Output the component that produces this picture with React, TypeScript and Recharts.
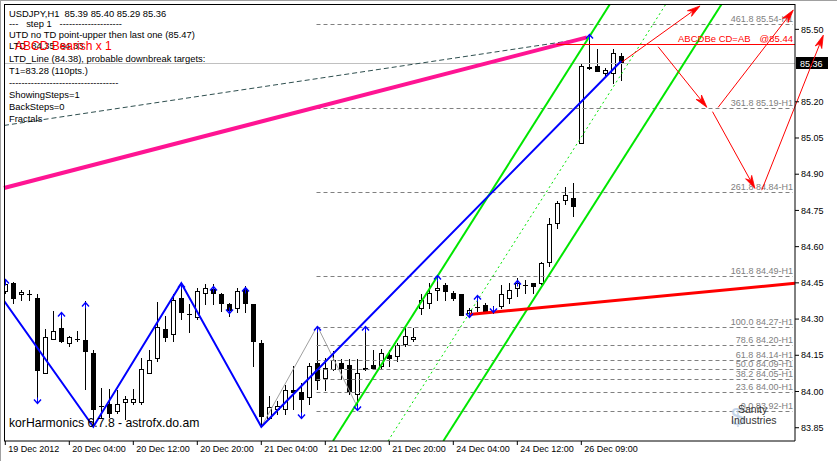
import React from 'react';
import {
  ComposedChart,
  Bar,
  Line,
  Scatter,
  XAxis,
  YAxis,
  ReferenceLine,
} from 'recharts';

const FONT = '"Liberation Sans", Arial, sans-serif';

// H1 bars: open, high, low, close
const ohlc: number[][] = [
  [84.416, 84.456, 84.41, 84.444],
  [84.451, 84.455, 84.368, 84.389],
  [84.402, 84.42, 84.381, 84.412],
  [84.402, 84.42, 84.381, 84.402],
  [84.389, 84.402, 83.96, 84.089],
  [84.078, 84.26, 84.075, 84.227],
  [84.219, 84.333, 84.216, 84.249],
  [84.261, 84.327, 84.205, 84.209],
  [84.199, 84.23, 84.188, 84.227],
  [84.219, 84.249, 84.209, 84.219],
  [84.212, 84.374, 84.009, 84.168],
  [84.161, 84.17, 83.857, 83.926],
  [83.94, 84.016, 83.893, 83.94],
  [83.949, 84.009, 83.893, 83.909],
  [83.919, 84.006, 83.912, 83.949],
  [83.956, 83.981, 83.885, 83.97],
  [83.956, 84.009, 83.947, 83.97],
  [83.956, 84.14, 83.947, 84.092],
  [84.078, 84.17, 84.075, 84.13],
  [84.14, 84.37, 84.126, 84.267],
  [84.26, 84.313, 84.209, 84.227],
  [84.239, 84.402, 84.209, 84.381],
  [84.389, 84.451, 84.299, 84.329],
  [84.319, 84.361, 84.246, 84.319],
  [84.308, 84.43, 84.299, 84.416],
  [84.409, 84.444, 84.361, 84.43],
  [84.423, 84.444, 84.361, 84.409],
  [84.402, 84.409, 84.333, 84.368],
  [84.361, 84.368, 84.313, 84.337],
  [84.347, 84.43, 84.329, 84.416],
  [84.423, 84.437, 84.329, 84.368],
  [84.361, 84.361, 84.105, 84.209],
  [84.199, 84.212, 83.857, 83.898],
  [83.891, 83.981, 83.885, 83.937],
  [83.929, 83.96, 83.905, 83.94],
  [83.929, 84.029, 83.905, 84.006],
  [84.006, 84.105, 83.926, 84.0],
  [84.0, 84.036, 83.893, 83.97],
  [83.977, 84.119, 83.947, 84.105],
  [84.119, 84.271, 84.009, 84.047],
  [84.057, 84.14, 84.006, 84.099],
  [84.092, 84.167, 84.09, 84.13],
  [84.119, 84.133, 84.05, 84.099],
  [84.108, 84.133, 83.988, 84.002],
  [83.988, 84.133, 83.937, 84.078],
  [84.092, 84.271, 84.088, 84.099],
  [84.108, 84.17, 84.092, 84.096],
  [84.105, 84.174, 84.092, 84.161],
  [84.15, 84.17, 84.105, 84.139],
  [84.147, 84.202, 84.126, 84.191],
  [84.195, 84.264, 84.188, 84.229],
  [84.216, 84.264, 84.209, 84.227],
  [84.347, 84.402, 84.319, 84.381],
  [84.368, 84.451, 84.347, 84.409],
  [84.419, 84.478, 84.381, 84.43],
  [84.44, 84.451, 84.381, 84.416],
  [84.409, 84.416, 84.381, 84.389],
  [84.402, 84.402, 84.316, 84.316],
  [84.327, 84.347, 84.313, 84.336],
  [84.351, 84.395, 84.333, 84.351],
  [84.358, 84.368, 84.326, 84.333],
  [84.333, 84.354, 84.324, 84.333],
  [84.354, 84.44, 84.347, 84.402],
  [84.389, 84.451, 84.368, 84.419],
  [84.43, 84.471, 84.395, 84.451],
  [84.44, 84.461, 84.409, 84.44],
  [84.451, 84.451, 84.409, 84.437],
  [84.451, 84.536, 84.444, 84.531],
  [84.538, 84.72, 84.519, 84.692],
  [84.699, 84.789, 84.679, 84.779],
  [84.792, 84.848, 84.778, 84.812],
  [84.8, 84.862, 84.727, 84.768],
  [85.031, 85.362, 85.031, 85.348],
  [85.344, 85.479, 85.336, 85.338],
  [85.348, 85.42, 85.327, 85.327],
  [85.321, 85.341, 85.311, 85.331],
  [85.321, 85.42, 85.279, 85.401],
  [85.39, 85.4, 85.29, 85.36],
];

const dateTicks = [0, 8, 16, 24, 32, 40, 48, 56, 64, 72];
const dateLabels = [
  '19 Dec 2012',
  '20 Dec 04:00',
  '20 Dec 12:00',
  '20 Dec 20:00',
  '21 Dec 04:00',
  '21 Dec 12:00',
  '21 Dec 20:00',
  '24 Dec 04:00',
  '24 Dec 12:00',
  '26 Dec 09:00',
];
const priceTicks = [83.85, 84.0, 84.15, 84.3, 84.45, 84.6, 84.75, 84.9, 85.05, 85.2, 85.5];

const X_MIN = -0.1625;
const X_MAX = 98.71;
const Y_MIN = 83.795;
const Y_MAX = 85.605;

// zigzags (bar, price)
const zigzagBlue = [[-0.16, 84.376], [11, 83.854], [22, 84.448], [32, 83.854], [77, 85.369]];
const zigzagGrey = [[32, 83.854], [39, 84.271], [44, 83.937]];

// fractal arrows (bar, price)
const fractalUp = [
  [0, 84.466], [7, 84.33], [10, 84.372], [22, 84.45], [26, 84.437], [30, 84.434],
  [39, 84.271], [45, 84.271], [54, 84.482], [59, 84.399], [64, 84.461], [73, 85.479],
];
const fractalDown = [
  [4, 83.951], [28, 84.324], [37, 83.889], [44, 83.923], [58, 84.309], [61, 84.33],
];

// fibo levels
const fibLevels = [85.521, 85.173, 84.825, 84.478, 84.266, 84.191, 84.129, 84.092, 84.05, 83.996, 83.919];
const fibLabels = [
  '461.8 85.54-H1',
  '361.8 85.19-H1',
  '261.8 84.84-H1',
  '161.8 84.49-H1',
  '100.0 84.27-H1',
  '78.6 84.20-H1',
  '61.8 84.14-H1',
  '50.0 84.09-H1',
  '38.2 84.05-H1',
  '23.6 84.00-H1',
  '0.0 83.92-H1',
];
const fibStart = 38.9;
const fibEnd = 98.45;

// trend lines (bar, price) pairs
const channelLeft = [[40.96, 83.795], [75.59, 85.605]];
const channelMid = [[47.84, 83.795], [82.58, 85.605]];
const channelRight = [[54.75, 83.795], [89.55, 85.605]];
const pinkLine = [[-0.16, 84.843], [72.7, 85.467]];
const dashLine = [[-0.16, 85.102], [72.7, 85.463]];
const ltdLine = [[58, 84.319], [98.71, 84.448]];
const abcdLine = [[68.9, 85.439], [98.71, 85.439]];
const lastPrice = 85.36;

// ABCD projection arrows
const projections = [
  [[77.1, 85.365], [86.84, 85.597]],
  [[81.6, 85.428], [87.7, 85.177]],
  [[89.1, 85.177], [98.5, 85.58]],
  [[88.4, 85.159], [93.7, 84.841]],
  [[94.55, 84.834], [102.25, 85.476]],
];

const infoLines = [
  'USDJPY,H1  85.39 85.40 85.29 85.36',
  '---   step 1   --------------------',
  'UTD no TD point-upper then last one (85.47)',
  'LTD  84.35  84.33',
  'LTD_Line (84.38), probable downbreak targets:',
  'T1=83.28 (110pts.)',
  '-----------------------------------',
  'ShowingSteps=1',
  'BackSteps=0',
  'Fractals',
];
const infoY = [16.6, 26.6, 37.6, 49, 62.3, 74, 85.6, 97.6, 110, 121.6];

const candles = ohlc.map(([o, h, l, c], i) => ({ i, o, h, l, c }));
const blueData = zigzagBlue.map(([i, v]) => ({ i, v }));
const greyData = zigzagGrey.map(([i, v]) => ({ i, v }));
const fractals = [
  ...fractalUp.map(([i, v]) => ({ i, v, dir: 'up' })),
  ...fractalDown.map(([i, v]) => ({ i, v, dir: 'down' })),
];

const seg = (p: number[][]) => [
  { x: p[0][0], y: p[0][1] },
  { x: p[1][0], y: p[1][1] },
];

const Candle = (p: any) => {
  const { x, y, width, height, payload } = p;
  const { o, h, l, c } = payload;
  const top = Math.min(y, y + height);
  const span = Math.abs(height);
  const toY = (v: number) => top + ((h - v) / (h - l || 1)) * span;
  const cx = Math.floor(x + width / 2) + 0.5;
  const yo = toY(o);
  const yc = toY(c);
  const bt = Math.round(Math.min(yo, yc));
  const bb = Math.round(Math.max(yo, yc));
  let body;
  if (bb - bt < 1) {
    body = <line x1={cx - 2.5} x2={cx + 2.5} y1={bt + 0.5} y2={bt + 0.5} stroke="#000" />;
  } else if (c > o) {
    body = <rect x={cx - 2} y={bt + 0.5} width={4} height={bb - bt} fill="#fff" stroke="#000" />;
  } else {
    body = <rect x={cx - 2.5} y={bt} width={5} height={bb - bt + 1} fill="#000" />;
  }
  return (
    <g>
      <line x1={cx} x2={cx} y1={Math.round(top)} y2={Math.round(top + span) + 1} stroke="#000" />
      {body}
    </g>
  );
};

const FractalMark = (p: any) => {
  const { cx, cy, payload } = p;
  if (cx == null || cy == null) return null;
  const s = payload.dir === 'up' ? 1 : -1;
  const x = Math.round(cx) + 0.5;
  const y = Math.round(cy) + 0.5;
  return (
    <g stroke="#0000FF" strokeWidth={1.4} fill="none">
      <polyline points={`${x - 3.5},${y + 4 * s} ${x},${y} ${x + 3.5},${y + 4 * s}`} />
      <line x1={x} x2={x} y1={y} y2={y + 6 * s} strokeWidth={1} />
    </g>
  );
};

const FibShape = (label: string) => (p: any) => (
  <g>
    <line x1={p.x1} y1={Math.round(p.y1) + 0.5} x2={p.x2} y2={Math.round(p.y2) + 0.5} stroke="#808080" strokeDasharray="4 3" />
    <text x={p.x2} y={Math.round(p.y1) - 2} textAnchor="end" fontSize={9} fontFamily={FONT} fill="#808080">
      {label}
    </text>
  </g>
);

const ArrowShape = (p: any) => {
  const { x1, y1, x2, y2 } = p;
  const a = Math.atan2(y2 - y1, x2 - x1);
  const L = 13;
  const w = 3.5;
  const bx = x2 - L * Math.cos(a);
  const by = y2 - L * Math.sin(a);
  const nx = x2 - (L - 4) * Math.cos(a);
  const ny = y2 - (L - 4) * Math.sin(a);
  const px = -Math.sin(a) * w;
  const py = Math.cos(a) * w;
  return (
    <g>
      <line x1={x1} y1={y1} x2={nx} y2={ny} stroke="#FF0000" strokeWidth={1} />
      <polygon
        points={`${x2},${y2} ${bx + px},${by + py} ${nx},${ny} ${bx - px},${by - py}`}
        fill="#FF0000"
        stroke="#FF0000"
        strokeWidth={0.8}
      />
    </g>
  );
};

const AbcdShape = (p: any) => (
  <g>
    <line x1={p.x1} y1={Math.round(p.y1) + 0.5} x2={p.x2} y2={Math.round(p.y2) + 0.5} stroke="#FF0000" />
    <text x={678} y={Math.round(p.y1) - 2} fontSize={9.5} fontFamily={FONT} fill="#FF0000">
      ABCDBe CD=AB
    </text>
    <text x={p.x2 - 2} y={Math.round(p.y1) - 2} textAnchor="end" fontSize={9.5} fontFamily={FONT} fill="#FF0000">
      @85.44
    </text>
  </g>
);

const PriceShape = (p: any) => {
  const y = Math.round(p.y1) + 0.5;
  return (
    <g>
      <line x1={p.x1} y1={y} x2={p.x2} y2={y} stroke="#C0C0C0" />
      <rect x={p.x2 + 1} y={y - 6.5} width={32} height={12} fill="#000" />
      <text x={p.x2 + 5} y={y + 3.5} fontSize={9} fontFamily={FONT} fill="#fff">
        {lastPrice.toFixed(2)}
      </text>
    </g>
  );
};

const DateTick = (p: any) => {
  const { x, y, payload } = p;
  const idx = dateTicks.indexOf(payload.value);
  return (
    <text x={x + 3} y={y + 7} fontSize={9} fontFamily={FONT} fill="#000">
      {dateLabels[idx]}
    </text>
  );
};

export default function App() {
  return (
    <div style={{ position: 'fixed', left: 0, top: 0, width: 837, height: 461, background: '#fff', overflow: 'hidden' }}>
      <ComposedChart
        width={837}
        height={461}
        data={candles}
        margin={{ top: 4, right: 0, bottom: 0, left: 4 }}
      >
        <XAxis
          dataKey="i"
          type="number"
          domain={[X_MIN, X_MAX]}
          allowDataOverflow
          ticks={dateTicks}
          interval={0}
          height={20}
          tickSize={4}
          tickMargin={0}
          axisLine={{ stroke: '#000' }}
          tickLine={{ stroke: '#000' }}
          tick={<DateTick />}
        />
        <YAxis
          type="number"
          orientation="right"
          domain={[Y_MIN, Y_MAX]}
          allowDataOverflow
          ticks={priceTicks}
          interval={0}
          width={42}
          tickSize={4}
          tickMargin={2}
          axisLine={{ stroke: '#000' }}
          tickLine={{ stroke: '#000' }}
          tickFormatter={(v: number) => v.toFixed(2)}
          tick={{ fontSize: 9, fontFamily: FONT, fill: '#000' }}
        />
        {fibLevels.map((lv, k) => (
          <ReferenceLine
            key={'fib' + k}
            segment={[{ x: fibStart, y: lv }, { x: fibEnd, y: lv }]}
            ifOverflow="visible"
            shape={FibShape(fibLabels[k])}
          />
        ))}
        <ReferenceLine
          segment={[{ x: X_MIN, y: lastPrice }, { x: X_MAX, y: lastPrice }]}
          ifOverflow="visible"
          shape={PriceShape}
        />
        <ReferenceLine segment={seg(dashLine)} ifOverflow="visible" stroke="#2F4F4F" strokeDasharray="5 3" />
        <ReferenceLine segment={seg(pinkLine)} ifOverflow="visible" stroke="#FF1493" strokeWidth={4} />
        <Line data={greyData} dataKey="v" stroke="#A0A0A0" strokeWidth={1} dot={false} isAnimationActive={false} />
        <ReferenceLine segment={seg(channelLeft)} ifOverflow="hidden" stroke="#00E600" strokeWidth={2} />
        <ReferenceLine segment={seg(channelRight)} ifOverflow="hidden" stroke="#00E600" strokeWidth={2} />
        <ReferenceLine segment={seg(channelMid)} ifOverflow="hidden" stroke="#00E600" strokeWidth={1} strokeDasharray="2 3" />
        <Bar dataKey={(d: any) => [d.l, d.h]} barSize={5} shape={<Candle />} isAnimationActive={false} />
        <Line data={blueData} dataKey="v" stroke="#0000FF" strokeWidth={2} dot={false} isAnimationActive={false} />
        <ReferenceLine segment={seg(ltdLine)} ifOverflow="visible" stroke="#FF0000" strokeWidth={3} />
        <ReferenceLine segment={seg(abcdLine)} ifOverflow="visible" shape={AbcdShape} />
        {projections.map((pr, k) => (
          <ReferenceLine key={'pr' + k} segment={seg(pr)} ifOverflow="visible" shape={ArrowShape} />
        ))}
        <Scatter data={fractals} dataKey="v" shape={<FractalMark />} isAnimationActive={false} />
      </ComposedChart>
      <div
        style={{
          position: 'absolute',
          left: 4,
          top: 4,
          width: 791,
          height: 437,
          borderLeft: '1px solid #000',
          borderTop: '1px solid #000',
          boxSizing: 'border-box',
          pointerEvents: 'none',
        }}
      />
      <div style={{ position: 'absolute', left: 0, top: 0, width: 837, height: 1, background: '#A0A0A0' }} />
      <div style={{ position: 'absolute', left: 0, top: 0, width: 1, height: 461, background: '#A0A0A0' }} />
      <svg width={837} height={461} style={{ position: 'absolute', left: 0, top: 0, pointerEvents: 'none' }}>
        {infoLines.map((t, k) => (
          <text key={k} x={9} y={infoY[k]} fontSize={9.4} fontFamily={FONT} fill="#000" xmlSpace="preserve">
            {t}
          </text>
        ))}
        <text x={15} y={50} fontSize={12} fontFamily={FONT} fill="#FF0000">
          ABCD Bearish x 1
        </text>
        <text x={9} y={427} fontSize={12.2} fontFamily={FONT} fill="#000">
          korHarmonics 6.7.8 - astrofx.do.am
        </text>
        <text x={731} y={425} fontSize={24} fontFamily={FONT} fill="#B8CDE6" opacity={0.8}>
          $
        </text>
        <text x={738} y={413} fontSize={10.5} fontFamily={FONT} fill="#333">
          Sanity
        </text>
        <text x={731} y={424} fontSize={10.5} fontFamily={FONT} fill="#333">
          Industries
        </text>
      </svg>
    </div>
  );
}
